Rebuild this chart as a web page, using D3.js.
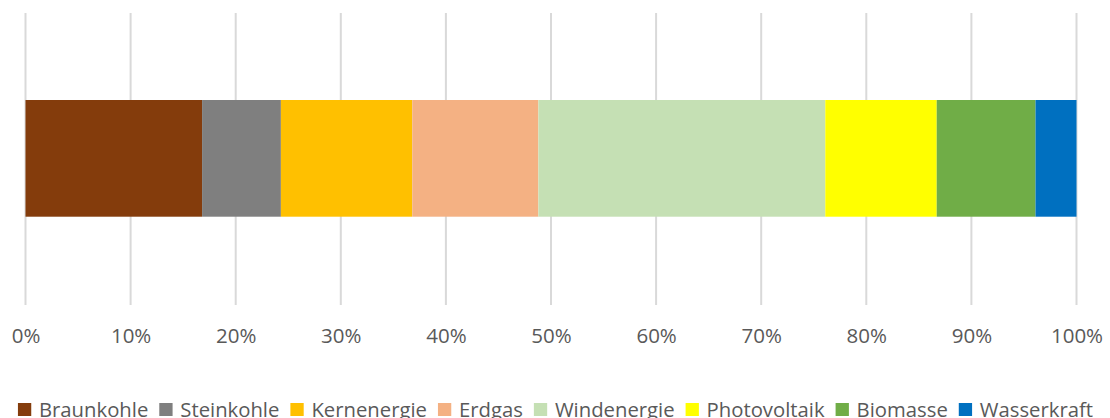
<!DOCTYPE html>
<html>
<head>
<meta charset="utf-8">
<script src="https://cdn.jsdelivr.net/npm/d3@7"></script>
<style>
  html, body { margin: 0; padding: 0; background: #fff; }
  svg { display: block; }
  text { font-family: "Open Sans", "Noto Sans", sans-serif; fill: #595959; }
</style>
</head>
<body>
<svg id="chart" width="1110" height="418"></svg>
<script>
const categories = ["Braunkohle", "Steinkohle", "Kernenergie", "Erdgas", "Windenergie", "Photovoltaik", "Biomasse", "Wasserkraft"];
const values = [16.8, 7.5, 12.5, 12.0, 27.3, 10.6, 9.4, 3.9];
const colors = ["#843c0c", "#7f7f7f", "#ffc000", "#f4b183", "#c5e0b4", "#ffff00", "#70ad47", "#0070c0"];
const tickValues = [0, 10, 20, 30, 40, 50, 60, 70, 80, 90, 100];
const tickLabels = tickValues.map(v => v + "%");

const svg = d3.select("#chart");
const x = d3.scaleLinear().domain([0, 100]).range([25.5, 1076.5]);
const gridTop = 13, gridBottom = 305;
const barTop = 100, barBottom = 216.7;

// gridlines
svg.append("g").selectAll("line").data(tickValues).join("line")
  .attr("x1", d => x(d)).attr("x2", d => x(d))
  .attr("y1", gridTop).attr("y2", gridBottom)
  .attr("stroke", "#d9d9d9").attr("stroke-width", 2);

// stacked bar
let cum = 0;
const segs = values.map((v, i) => { const s = { start: cum, end: cum + v, color: colors[i], name: categories[i] }; cum += v; return s; });
svg.append("g").selectAll("rect").data(segs).join("rect")
  .attr("x", d => x(d.start)).attr("width", d => x(d.end) - x(d.start))
  .attr("y", barTop).attr("height", barBottom - barTop)
  .attr("fill", d => d.color);

// axis labels
const axis = d3.axisBottom(x).tickValues(tickValues).tickFormat((d, i) => tickLabels[i]).tickSize(0).tickPadding(0);
const ag = svg.append("g").call(axis);
ag.select(".domain").remove();
ag.selectAll("text").attr("y", 343).attr("dy", null)
  .style("font-size", "20.5px").style("font-family", "'Open Sans', sans-serif").attr("fill", "#595959");

// legend
const leg = svg.append("g");
const items = categories.map((c, i) => {
  const g = leg.append("g");
  g.append("rect").attr("width", 13.3).attr("height", 13).attr("y", 403).attr("fill", colors[i]);
  const t = g.append("text").text(c).attr("x", 21).attr("y", 416.5).style("font-size", "20.3px");
  return { g, w: t.node().getComputedTextLength() };
});
const gap = 11;
const total = items.reduce((a, it) => a + 21 + it.w, 0) + gap * (items.length - 1);
let lx = 555.5 - total / 2;
items.forEach(it => { it.g.attr("transform", `translate(${lx},0)`); lx += 21 + it.w + gap; });
</script>
</body>
</html>
